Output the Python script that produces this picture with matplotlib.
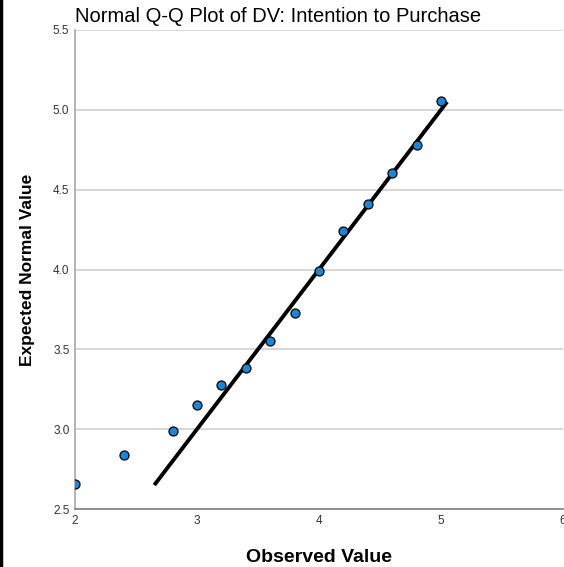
import matplotlib
matplotlib.use("Agg")
import matplotlib.pyplot as plt
from matplotlib.lines import Line2D

plt.rcParams["font.family"] = ["Liberation Sans", "DejaVu Sans"]

# observed values and their expected normal values
observed = [2.0, 2.4, 2.8, 3.0, 3.2, 3.4, 3.6, 3.8, 4.0, 4.2, 4.4, 4.6, 4.8, 5.0]
expected = [2.655, 2.84, 2.99, 3.15, 3.275, 3.38, 3.55, 3.725, 3.99, 4.24, 4.41, 4.605, 4.78, 5.055]

# reference line (y = x) end points
line_x = [2.65, 5.05]
line_y = [2.65, 5.05]

x_ticks = [2, 3, 4, 5, 6]
y_ticks = [2.5, 3.0, 3.5, 4.0, 4.5, 5.0, 5.5]

fig = plt.figure(figsize=(5.64, 5.67), dpi=100)
ax = fig.add_axes([75 / 564, 58 / 567, 488 / 564, 479 / 567])

ax.set_xlim(2, 6)
ax.set_ylim(2.5, 5.5)
ax.set_xticks(x_ticks)
ax.set_yticks(y_ticks)
ax.set_xticklabels([str(t) for t in x_ticks])
ax.set_yticklabels([f"{t:.1f}" for t in y_ticks])
ax.tick_params(length=0, labelsize=8.5, colors="#333333", pad=4)

ax.grid(axis="y", color="#d0d0d0", linewidth=1.2)
ax.set_axisbelow(True)
for side in ["top", "right"]:
    ax.spines[side].set_visible(False)
ax.spines["left"].set_color("#a8a8a8")
ax.spines["bottom"].set_color("#808080")
ax.spines["left"].set_linewidth(1.2)
ax.spines["bottom"].set_linewidth(1.2)

ax.plot(line_x, line_y, color="black", linewidth=2.8, solid_capstyle="butt", zorder=2)
ax.scatter(observed, expected, s=42, color="#1a86d8", edgecolor="black", linewidth=0.9, zorder=3)

ax.set_title("Normal Q-Q Plot of DV: Intention to Purchase", fontsize=14.5, loc="left",
             x=0.0, pad=6)
ax.set_xlabel("Observed Value", fontsize=14, fontweight="bold", labelpad=16)
ax.set_ylabel("Expected Normal Value", fontsize=12.5, fontweight="bold", labelpad=13)

# dark frame at the left edge of the picture
fig.add_artist(Line2D([0.002, 0.002], [0, 1], transform=fig.transFigure, color="black", linewidth=2.5))

fig.savefig("out.png", dpi=100)
